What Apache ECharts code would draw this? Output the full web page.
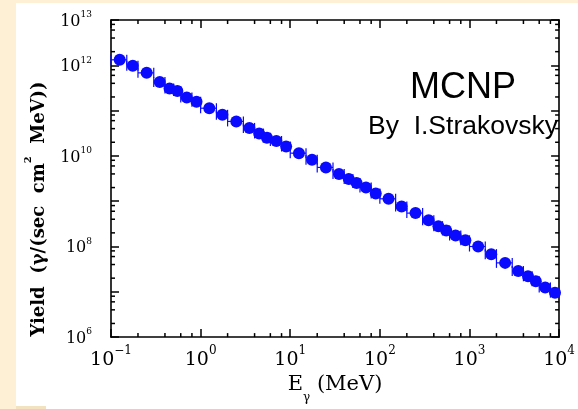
<!DOCTYPE html>
<html><head><meta charset="utf-8">
<script src="https://cdn.jsdelivr.net/npm/echarts@6/dist/echarts.min.js"></script>
<style>html,body{margin:0;padding:0;background:#fdf0d4;}#c{width:578px;height:409px;}</style>
</head><body><div id="c"></div>
<script>
// Photon energy bin centres (MeV)
const energy = [0.125,0.175,0.25,0.35,0.45,0.55,0.7,0.9,
  1.25,1.75,2.5,3.5,4.5,5.5,7,9,
  12.5,17.5,25,35,45,55,70,90,
  125,175,250,350,450,550,700,900,
  1250,1750,2500,3500,4500,5500,7000,9000];
// Bin edges (MeV)
const binLow = [0.1,0.15,0.2,0.3,0.4,0.5,0.6,0.8,
  1,1.5,2,3,4,5,6,8,
  10,15,20,30,40,50,60,80,
  100,150,200,300,400,500,600,800,
  1000,1500,2000,3000,4000,5000,6000,8000];
const binHigh = [0.15,0.2,0.3,0.4,0.5,0.6,0.8,1,
  1.5,2,3,4,5,6,8,10,
  15,20,30,40,50,60,80,100,
  150,200,300,400,500,600,800,1000,
  1500,2000,3000,4000,5000,6000,8000,10000];
// Yield (gamma/(sec cm^2 MeV))
const yieldValues = [1.32e12,9.8e11,6.81e11,4.26e11,3.06e11,2.72e11,1.95e11,1.57e11,
  1.13e11,8.07e10,5.77e10,4.15e10,3.13e10,2.52e10,2.13e10,1.61e10,
  1.15e10,8.22e9,5.57e9,3.97e9,3.09e9,2.51e9,2.0e9,1.48e9,
  1.13e9,7.64e8,5.46e8,3.79e8,2.81e8,2.26e8,1.75e8,1.37e8,
  1.0e8,6.78e7,4.35e7,2.87e7,2.2e7,1.70e7,1.25e7,9.57e6];
// Tick labels
const xLabelExponents = [-1,0,1,2,3,4];
const yLabelExponents = [6,8,10,12,13];
const minorMultipliers = [2,4,6,8];
const xDecades = [-1,0,1,2,3];
const yDecades = [6,7,8,9,10,11,12];

const blue = '#0a0aff';
const serif = 'DejaVu Serif';
const supText = e => (e < 0 ? '\u2212' + (-e) : '' + e);

const chart = echarts.init(document.getElementById('c'), null, {renderer: 'canvas'});

const axisCommon = {
  axisLine: {show: true, onZero: false, lineStyle: {color: '#000', width: 1.6}},
  axisTick: {show: true, inside: true, length: 8, lineStyle: {color: '#000', width: 1.5}},
  splitLine: {show: false},
  minorTick: {show: false}
};

const option = {
  backgroundColor: 'transparent',
  animation: false,
  graphic: [
    {type: 'rect', z: -10, shape: {x: 16, y: 3, width: 562, height: 406}, style: {fill: '#ffffff'}, silent: true},
    {type: 'rect', z: -9, shape: {x: 16, y: 406, width: 30, height: 3}, style: {fill: '#f3e2c0'}, silent: true},
    {type: 'text', x: 463, y: 88, style: {text: 'MCNP', font: '36px "Liberation Sans"', fill: '#000', align: 'center', verticalAlign: 'middle'}},
    {type: 'text', x: 463, y: 127, scaleX: 1.02, style: {text: 'By  I.Strakovsky', font: '26px "Liberation Sans"', fill: '#000', align: 'center', verticalAlign: 'middle'}},
    {type: 'text', x: 36, y: 209, rotation: Math.PI / 2, style: {
      text: '{t|Yield  (\u03b3/(sec  cm}{s|2}{t|  MeV))}', align: 'center', verticalAlign: 'middle',
      rich: {
        t: {fontFamily: serif, fontSize: 18, fontWeight: 'bold', fill: '#000', lineHeight: 25, verticalAlign: 'bottom'},
        s: {fontFamily: serif, fontSize: 10, fontWeight: 'bold', fill: '#000', lineHeight: 10, verticalAlign: 'top'}
      }
    }}
  ],
  grid: {left: 111, top: 20, width: 457, height: 322, containLabel: false},
  xAxis: [
    Object.assign({}, axisCommon, {
      type: 'log', logBase: 10, min: 0.1, max: 10000, splitNumber: 5, position: 'bottom',
      axisLabel: {
        margin: 8,
        formatter: v => {
          const e = Math.round(Math.log10(v));
          return xLabelExponents.includes(e) ? '{b|10}{s|' + supText(e) + '}' : '';
        },
        rich: {
          b: {fontFamily: serif, fontSize: 19, color: '#000', lineHeight: 24, verticalAlign: 'bottom'},
          s: {fontFamily: serif, fontSize: 12, color: '#000', lineHeight: 14, verticalAlign: 'top'}
        }
      },
      name: '{t|E}{g|\u03b3}{t| (MeV)}',
      nameLocation: 'middle', nameGap: 30,
      nameTextStyle: {
        rich: {
          t: {fontFamily: serif, fontSize: 21, color: '#000', lineHeight: 30, verticalAlign: 'top'},
          g: {fontFamily: serif, fontSize: 12, color: '#000', lineHeight: 13, verticalAlign: 'bottom'}
        }
      }
    }),
    Object.assign({}, axisCommon, {
      type: 'log', logBase: 10, min: 0.1, max: 10000, splitNumber: 5, position: 'top',
      axisLabel: {show: false}
    })
  ],
  yAxis: [
    Object.assign({}, axisCommon, {
      type: 'log', logBase: 10, min: 1e6, max: 1e13, splitNumber: 7, position: 'left',
      axisLabel: {
        margin: 19,
        formatter: v => {
          const e = Math.round(Math.log10(v));
          return yLabelExponents.includes(e) ? '{b|10}{s|' + e + '}' : '';
        },
        rich: {
          b: {fontFamily: serif, fontSize: 16, color: '#000', lineHeight: 19, verticalAlign: 'bottom'},
          s: {fontFamily: serif, fontSize: 9, color: '#000', lineHeight: 10, verticalAlign: 'top'}
        }
      }
    }),
    Object.assign({}, axisCommon, {
      type: 'log', logBase: 10, min: 1e6, max: 1e13, splitNumber: 7, position: 'right',
      axisLabel: {show: false}
    })
  ],
  series: [
    {
      type: 'custom', name: 'minor ticks', silent: true, clip: false, z: 5,
      xAxisIndex: 0, yAxisIndex: 0,
      data: [[1, 1e9]],
      renderItem: (params, api) => {
        const cs = params.coordSys;
        const children = [];
        const st = {stroke: '#000', lineWidth: 1.5};
        xDecades.forEach(d => minorMultipliers.forEach(m => {
          const px = api.coord([m * Math.pow(10, d), 1e9])[0];
          children.push({type: 'line', shape: {x1: px, y1: cs.y + cs.height, x2: px, y2: cs.y + cs.height - 4}, style: st});
          children.push({type: 'line', shape: {x1: px, y1: cs.y, x2: px, y2: cs.y + 4}, style: st});
        }));
        yDecades.forEach(d => minorMultipliers.forEach(m => {
          const py = api.coord([1, m * Math.pow(10, d)])[1];
          children.push({type: 'line', shape: {x1: cs.x, y1: py, x2: cs.x + 4, y2: py}, style: st});
          children.push({type: 'line', shape: {x1: cs.x + cs.width, y1: py, x2: cs.x + cs.width - 4, y2: py}, style: st});
        }));
        return {type: 'group', children};
      }
    },
    {
      type: 'custom', name: 'bin widths', silent: true, z: 6,
      xAxisIndex: 0, yAxisIndex: 0,
      data: energy.map((e, i) => [e, yieldValues[i], binLow[i], binHigh[i]]),
      encode: {x: 0, y: 1},
      renderItem: (params, api) => {
        const y = api.value(1);
        const p1 = api.coord([api.value(2), y]);
        const p2 = api.coord([api.value(3), y]);
        const st = {stroke: blue, lineWidth: 1.2};
        return {type: 'group', children: [
          {type: 'line', shape: {x1: p1[0], y1: p1[1], x2: p2[0], y2: p2[1]}, style: st},
          {type: 'line', shape: {x1: p1[0], y1: p1[1] - 5, x2: p1[0], y2: p1[1] + 5}, style: st},
          {type: 'line', shape: {x1: p2[0], y1: p2[1] - 5, x2: p2[0], y2: p2[1] + 5}, style: st}
        ]};
      }
    },
    {
      type: 'scatter', name: 'Yield', z: 7,
      xAxisIndex: 0, yAxisIndex: 0,
      symbol: 'circle', symbolSize: 12,
      itemStyle: {color: blue, opacity: 1},
      data: energy.map((e, i) => [e, yieldValues[i]])
    }
  ]
};
chart.setOption(option);
</script>
</body></html>
